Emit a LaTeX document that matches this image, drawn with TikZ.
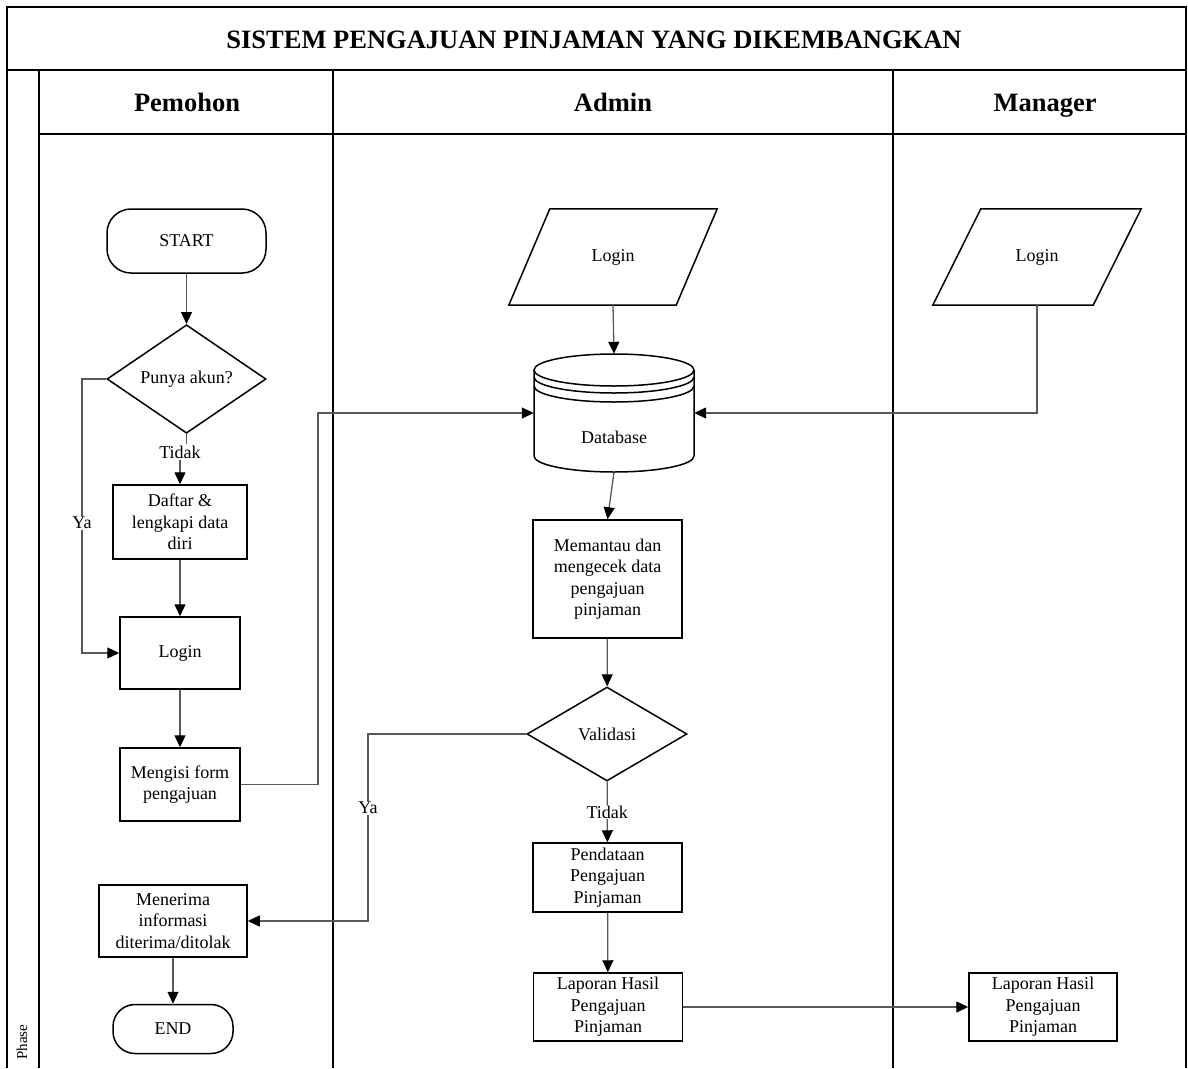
\documentclass[tikz,border=0pt]{standalone}
\usepackage{fontspec}
\setmainfont{Liberation Serif}
\usetikzlibrary{shapes.geometric}
\usetikzlibrary{arrows.meta}

\begin{document}
\begin{tikzpicture}[x=1pt,y=-1pt,
    font=\fontsize{18}{21.5}\selectfont,
    box/.style={draw,line width=1.5pt,align=center,inner sep=0pt},
    term/.style={box,rounded corners=24pt},
    dec/.style={draw,diamond,line width=1.5pt,inner sep=0pt,minimum width=160pt,minimum height=94pt},
    io/.style={inner sep=0pt,minimum width=208pt,minimum height=96pt},
    oneline/.style={text height=12pt,text depth=4pt},
    lane/.style={line width=2pt},
    head/.style={font=\fontsize{26.5}{30}\selectfont\bfseries,anchor=base},
    conn/.style={draw=black!65,line width=1.3pt},
    arr/.style={conn,-{Triangle[length=12pt,width=11pt,color=black]}},
    lbl/.style={fill=white,inner sep=1pt}]
      \useasboundingbox (0,0) rectangle (1188,1068);
      \draw[lane] (7,1068) -- (7,7) -- (1186,7) -- (1186,1068);
      \draw[lane] (7,70) -- (1186,70);
      \draw[lane] (39,134) -- (1186,134);
      \draw[lane] (39,70) -- (39,1068);
      \draw[lane] (333,70) -- (333,1068);
      \draw[lane] (893,70) -- (893,1068);
      \node[head] (title) at (594,48) {SISTEM PENGAJUAN PINJAMAN YANG DIKEMBANGKAN};
      \node[head] (hpemohon) at (187,111) {Pemohon};
      \node[head] (hadmin) at (613,111) {Admin};
      \node[head] (hmanager) at (1045,111) {Manager};
      \node[rotate=90,font=\fontsize{15}{17}\selectfont] (phase) at (22,1042) {Phase};

      \node[term,minimum width=159pt,minimum height=64pt] (start) at (186.5,241) {START};
      \node[dec,oneline,minimum width=159pt] (akun) at (186.5,379) {Punya akun?};
      \node[lbl] (tidakA) at (180,452) {Tidak};
      \node[box,minimum width=134pt,minimum height=74pt] (daftar) at (180,522) {Daftar \&\\lengkapi data\\diri};
      \node[box,oneline,minimum width=120pt,minimum height=72pt] (loginP) at (180,653) {Login};
      \node[box,minimum width=120pt,minimum height=73pt] (isi) at (180,784.5) {Mengisi form\\pengajuan};
      \node[box,minimum width=148pt,minimum height=72pt] (terima) at (173,921) {Menerima\\informasi\\diterima/ditolak};
      \node[term,minimum width=120pt,minimum height=49pt,rounded corners=22pt] (end) at (173,1029) {END};

      \node[io,oneline] (loginA) at (613,257) {Login};
      \draw[line width=1.5pt] ([xshift=41pt]loginA.north west) -- (loginA.north east) -- ([xshift=-41pt]loginA.south east) -- (loginA.south west) -- cycle;
      \node[inner sep=0pt,minimum width=160pt,minimum height=118pt] (db) at (614,413) {};
      \draw[line width=1.5pt] (614,370) ellipse[x radius=80, y radius=16];
      \draw[line width=1.5pt] (534,370) -- (534,456) arc[start angle=180, end angle=0, x radius=80, y radius=16] -- (694,370);
      \draw[line width=1.5pt] (534,377) arc[start angle=180, end angle=0, x radius=80, y radius=16];
      \draw[line width=1.5pt] (534,386) arc[start angle=180, end angle=0, x radius=80, y radius=16];
      \node (dbtext) at (614,437) {Database};
      \node[box,minimum width=149pt,minimum height=118pt] (pantau) at (607.5,579) {Memantau dan\\mengecek data\\pengajuan\\pinjaman};
      \node[dec] (valid) at (607,734) {Validasi};
      \node[box,minimum width=149pt,minimum height=69pt] (pendataan) at (607.5,877.5) {Pendataan\\Pengajuan\\Pinjaman};
      \node[box,minimum width=149pt,minimum height=68pt] (laporanA) at (608,1007) {Laporan Hasil\\Pengajuan\\Pinjaman};

      \node[io,oneline] (loginM) at (1037,257) {Login};
      \draw[line width=1.5pt] ([xshift=48pt]loginM.north west) -- (loginM.north east) -- ([xshift=-48pt]loginM.south east) -- (loginM.south west) -- cycle;
      \node[box,minimum width=148pt,minimum height=68pt] (laporanM) at (1043,1007) {Laporan Hasil\\Pengajuan\\Pinjaman};

      \draw[arr] (start) -- (akun);
      \draw[conn] (akun.south) -- (akun.south |- tidakA.north);
      \draw[arr] (tidakA) -- (daftar);
      \draw[arr] (akun.west) -| (82,523) node[lbl] (yaA) {Ya} |- (loginP.west);
      \draw[arr] (daftar) -- (loginP);
      \draw[arr] (loginP) -- (isi);
      \draw[arr] (isi.east) -- (318,784.5) |- (db.west);
      \draw[arr] (loginA.south) -- (db.north);
      \draw[arr] (loginM.south) |- (db.east);
      \draw[arr] (db.south) -- (pantau.north);
      \draw[arr] (pantau) -- (valid);
      \draw[arr] (valid) -- node[lbl] (tidakB) {Tidak} (pendataan);
      \draw[arr] (valid.west) -| (368,808) node[lbl] (yaB) {Ya} |- (terima.east);
      \draw[arr] (pendataan) -- (laporanA);
      \draw[arr] (laporanA) -- (laporanM);
      \draw[arr] (terima) -- (end);
\end{tikzpicture}
\end{document}
